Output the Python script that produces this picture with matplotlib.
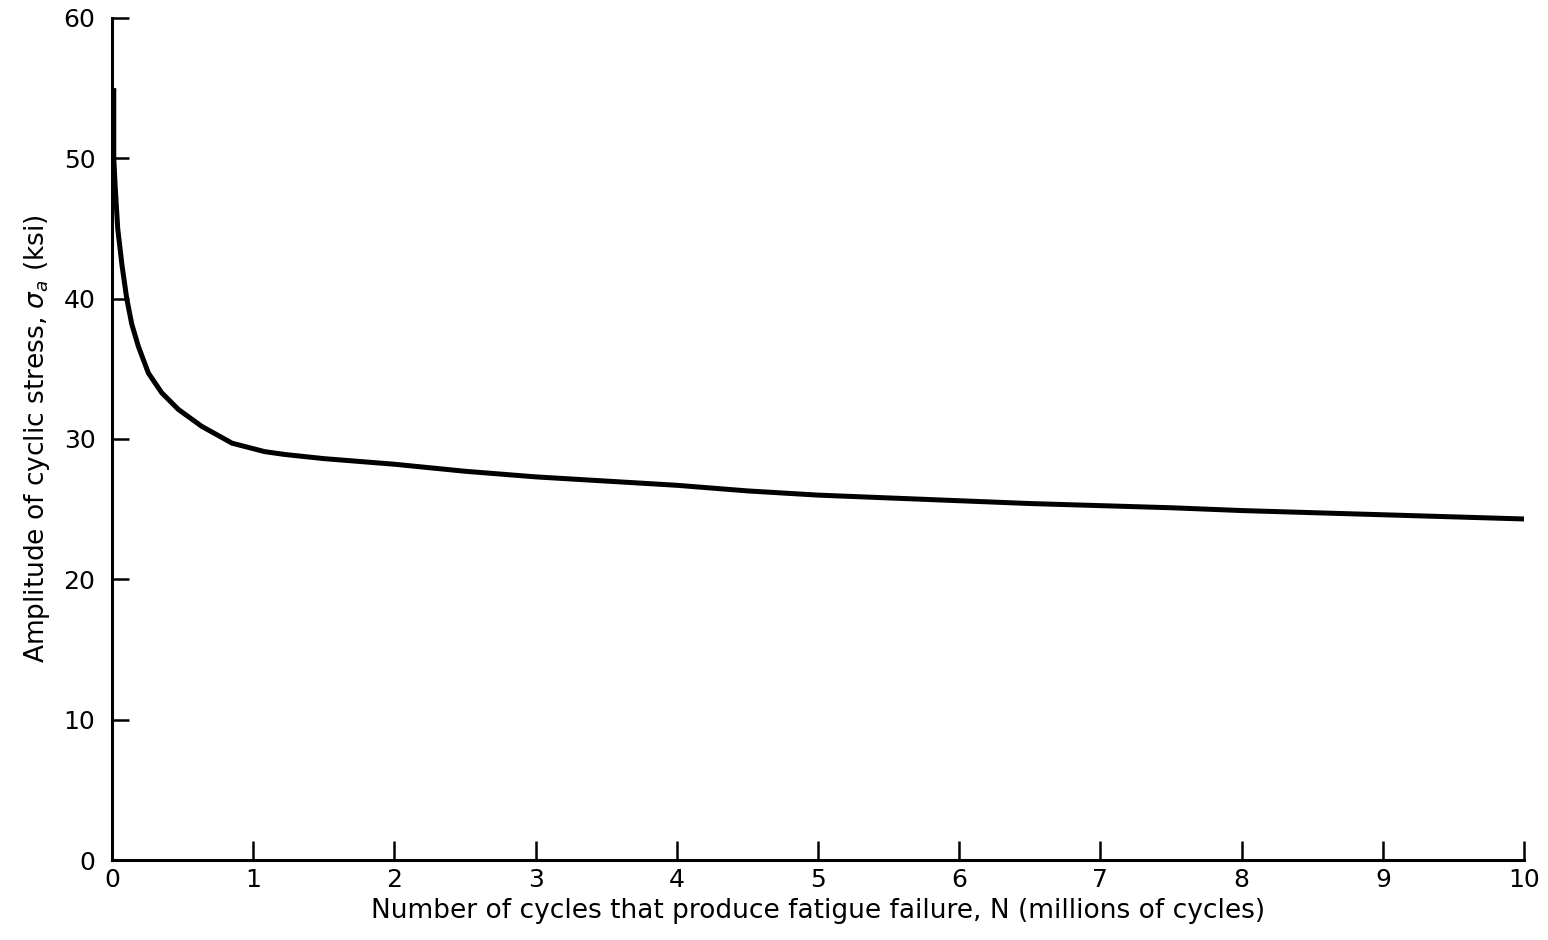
import numpy as np
import matplotlib
matplotlib.use('Agg')
import matplotlib.pyplot as plt

# S-N curve (N in millions of cycles, stress in ksi)
N_millions = [0.012, 0.012, 0.022, 0.04, 0.07, 0.104, 0.139, 0.186, 0.257, 0.351,
              0.47, 0.635, 0.85, 1.08, 1.22, 1.5, 2.0, 2.5, 3.0, 3.5, 4.0, 4.5,
              5.0, 5.5, 6.0, 6.5, 7.0, 7.5, 8.0, 8.5, 9.0, 9.5, 10.0]
stress_ksi = [55.0, 50.0, 48.0, 45.0, 42.4, 40.0, 38.2, 36.6, 34.7, 33.3,
              32.1, 30.9, 29.7, 29.1, 28.9, 28.6, 28.2, 27.7, 27.3, 27.0, 26.7, 26.3,
              26.0, 25.8, 25.6, 25.4, 25.25, 25.1, 24.9, 24.75, 24.6, 24.45, 24.3]

x_ticks = np.arange(0, 11, 1)
y_ticks = np.arange(0, 61, 10)

fig = plt.figure(figsize=(15.48, 9.40), dpi=100)
ax = fig.add_axes([0.0724, 0.0851, 0.9121, 0.8958])

ax.plot(N_millions, stress_ksi, color='black', linewidth=3.6,
        solid_capstyle='butt', solid_joinstyle='round')

ax.set_xlim(0, 10)
ax.set_ylim(0, 60)
ax.set_xticks(x_ticks)
ax.set_yticks(y_ticks)

for s in ['top', 'right']:
    ax.spines[s].set_visible(False)
for s in ['left', 'bottom']:
    ax.spines[s].set_linewidth(2.2)
    ax.spines[s].set_color('black')

ax.tick_params(axis='x', direction='in', length=14, width=1.8, pad=6, labelsize=18)
ax.tick_params(axis='y', direction='in', length=12, width=1.8, pad=12, labelsize=18)

ax.set_xlabel('Number of cycles that produce fatigue failure, N (millions of cycles)',
              fontsize=19, labelpad=4)
ax.set_ylabel(r'Amplitude of cyclic stress, $\sigma_a$ (ksi)', fontsize=19, labelpad=8)

fig.savefig('out.png', dpi=100)
